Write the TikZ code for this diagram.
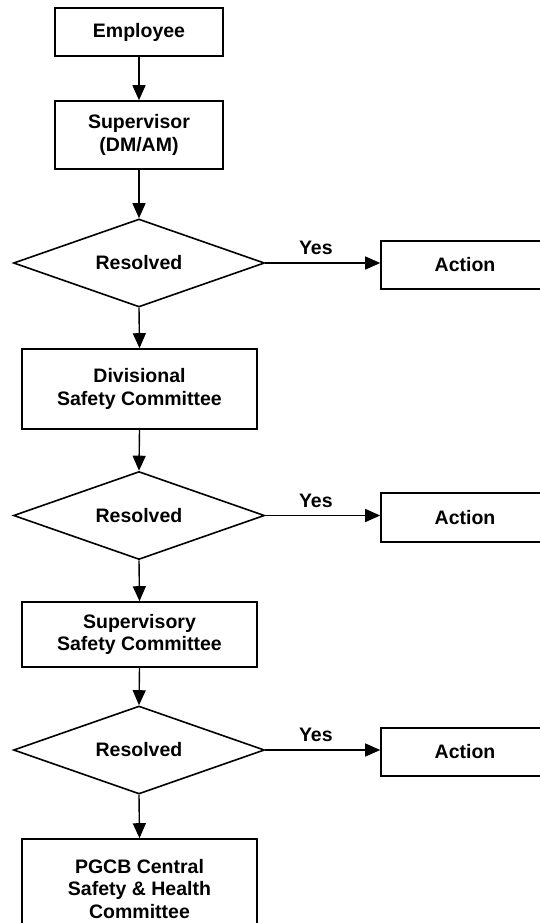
\documentclass[tikz,border=0pt]{standalone}
\usepackage{fontspec}
\setmainfont{Liberation Sans}
\usetikzlibrary{shapes.geometric,arrows.meta}
\tikzset{
  flownode/.style  = {draw, line width=1.6pt, align=center, inner sep=2pt,
                      font=\bfseries\fontsize{19.5}{22.5}\selectfont},
  box/.style       = {flownode, shape=rectangle, minimum width=168pt, minimum height=48pt},
  widebox/.style   = {box, minimum width=235pt},
  actionbox/.style = {box, minimum height=48.5pt},
  decision/.style  = {flownode, shape=diamond, aspect=2.8,
                      minimum width=251pt, minimum height=88pt},
  flow/.style      = {line width=1.4pt, -{Triangle[length=15pt,width=13pt]}},
  yeslabel/.style  = {above=4pt, pos=0.44, font=\bfseries\fontsize{19.5}{22.5}\selectfont}
}
\begin{document}
\begin{tikzpicture}
 [x=1pt, y=-1pt]

  \useasboundingbox (0,0) rectangle (539,923);

  \node [box] (emp) at (139,32) {Employee};
  \node [box, minimum height=68pt] (sup) at (139,135) {Supervisor\\(DM/AM)};
  \node [decision] (res1) at (139,263) {Resolved};
  \node [actionbox] (act1) at (465,265) {Action};
  \node [widebox, minimum height=80pt] (div) at (139.5,389) {Divisional\\Safety Committee};
  \node [decision] (res2) at (139,515.5) {Resolved};
  \node [actionbox] (act2) at (465,517.5) {Action};
  \node [widebox, minimum height=65pt] (svc) at (139.5,634.5) {Supervisory\\Safety Committee};
  \node [decision] (res3) at (139,750) {Resolved};
  \node [actionbox] (act3) at (465,752) {Action};
  \node [widebox, minimum height=100pt] (pgcb) at (139.5,889) {PGCB Central\\Safety \& Health\\Committee};

  \draw [flow] (emp.south) -- (sup.north);
  \draw [flow] (sup.south) -- (res1.north);
  \draw [flow] (res1.south) -- (div.north);
  \draw [flow] (div.south) -- (res2.north);
  \draw [flow] (res2.south) -- (svc.north);
  \draw [flow] (svc.south) -- (res3.north);
  \draw [flow] (res3.south) -- (pgcb.north);

  \draw [flow] (res1.east) -- node [yeslabel] {Yes} (res1.east -| act1.west);
  \draw [flow] (res2.east) -- node [yeslabel] {Yes} (res2.east -| act2.west);
  \draw [flow] (res3.east) -- node [yeslabel] {Yes} (res3.east -| act3.west);
\end{tikzpicture}
\end{document}
